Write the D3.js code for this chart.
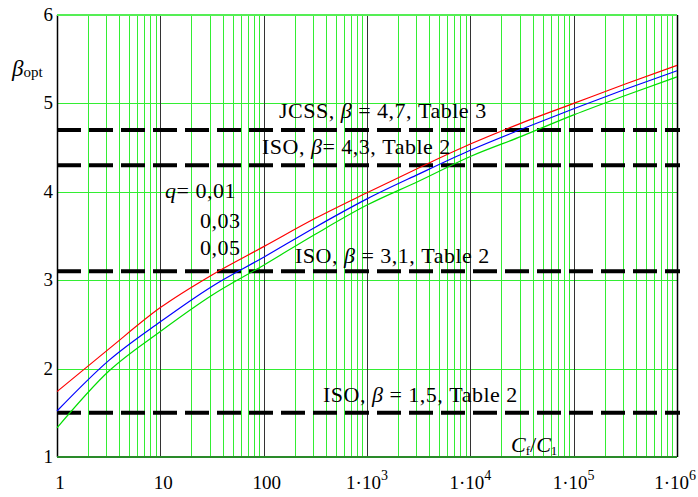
<!DOCTYPE html>
<html lang="en">
  <head>
    <meta charset="UTF-8" />
    <title>beta opt</title>
    <style>
      body { margin: 0; background: #fff; }
      svg { font-family: "Liberation Serif", "Times New Roman", serif; }
    </style>
    <script src="https://d3js.org/d3.v7.min.js"></script>
  </head>
  <body>
    <svg width="698" height="497"></svg>
    <script>
      // C_f / C_1 ratio (x) and beta_opt for the three q values
      var ratio = [1, 3.16, 10, 31.6, 100, 316, 1000, 3160, 10000, 31600, 100000, 316000, 1000000];
      var q001 = [1.74, 2.22, 2.69, 3.06, 3.38, 3.70, 3.99, 4.27, 4.54, 4.78, 5.00, 5.22, 5.43];
      var q003 = [1.52, 2.09, 2.53, 2.93, 3.26, 3.60, 3.92, 4.20, 4.47, 4.71, 4.94, 5.16, 5.37];
      var q005 = [1.33, 1.97, 2.42, 2.83, 3.17, 3.52, 3.85, 4.12, 4.40, 4.63, 4.87, 5.09, 5.30];

      // target reliability levels (dashed)
      var targets = [4.7, 4.3, 3.1, 1.5];
      var yTicks = [1, 2, 3, 4, 5, 6];
      var xDecades = [1, 10, 100, 1000, 10000, 100000, 1000000];
      var xTickText = ["1", "10", "100", "3", "4", "5", "6"];

      var svg = d3.select("svg");
      var x = d3.scaleLog().domain([1, 1e6]).range([57, 677]);
      var y = d3.scaleLinear().domain([1, 6]).range([457, 15]);

      // minor vertical grid (green)
      var minor = [];
      xDecades.slice(0, 6).forEach(function (d) {
        for (var m = 2; m < 10; m++) minor.push(d * m);
      });
      svg.append("g")
        .selectAll("line")
        .data(minor)
        .join("line")
        .attr("x1", (d) => Math.round(x(d)) + 0.5)
        .attr("x2", (d) => Math.round(x(d)) + 0.5)
        .attr("y1", y(6))
        .attr("y2", y(1))
        .attr("stroke", "#33ee33")
        .attr("stroke-width", 1);

      // horizontal grid (green)
      svg.append("g")
        .selectAll("line")
        .data(yTicks.slice(1, 5))
        .join("line")
        .attr("x1", x(1))
        .attr("x2", x(1e6))
        .attr("y1", (d) => Math.round(y(d)) + 0.5)
        .attr("y2", (d) => Math.round(y(d)) + 0.5)
        .attr("stroke", "#33ee33");

      // decade lines (black)
      svg.append("g")
        .selectAll("line")
        .data(xDecades)
        .join("line")
        .attr("x1", (d) => Math.round(x(d)) + 0.5)
        .attr("x2", (d) => Math.round(x(d)) + 0.5)
        .attr("y1", y(6))
        .attr("y2", y(1))
        .attr("stroke", (d, i) => (i == 0 || i == 6 ? "#000" : "#333"))
        .attr("stroke-width", (d, i) => (i == 0 || i == 6 ? 1.5 : 1));

      // top and bottom borders
      svg.append("line")
        .attr("x1", x(1)).attr("x2", x(1e6))
        .attr("y1", y(6)).attr("y2", y(6))
        .attr("stroke", "#55ee55").attr("stroke-width", 2);
      svg.append("line")
        .attr("x1", x(1)).attr("x2", x(1e6))
        .attr("y1", y(1)).attr("y2", y(1))
        .attr("stroke", "#2a8a2a").attr("stroke-width", 2);

      // dashed target lines
      svg.append("g")
        .selectAll("line")
        .data(targets)
        .join("line")
        .attr("x1", x(1))
        .attr("x2", x(1e6) + 3)
        .attr("y1", (d) => y(d))
        .attr("y2", (d) => y(d))
        .attr("stroke", "#000")
        .attr("stroke-width", 4)
        .attr("stroke-dasharray", "24,8");

      // curves
      var line = d3.line()
        .curve(d3.curveMonotoneX)
        .x((d) => x(d[0]))
        .y((d) => y(d[1]));
      [[q001, "#ff0000"], [q003, "#0000ff"], [q005, "#00dd00"]].forEach(function (s) {
        svg.append("path")
          .attr("d", line(ratio.map((r, i) => [r, s[0][i]])))
          .attr("fill", "none")
          .attr("stroke", s[1])
          .attr("stroke-width", 1.2);
      });

      // y tick labels
      svg.append("g")
        .selectAll("text")
        .data(yTicks)
        .join("text")
        .attr("x", 53)
        .attr("y", (d) => y(d) + 6)
        .attr("text-anchor", "end")
        .attr("font-size", 19)
        .text((d) => d);

      // x tick labels
      var xl = svg.append("g")
        .selectAll("text")
        .data(xDecades)
        .join("text")
        .attr("x", (d, i) => (i == 6 ? 696 : x(d) + (i < 3 ? 3 : 0)))
        .attr("y", 489)
        .attr("text-anchor", (d, i) => (i == 6 ? "end" : "middle"))
        .attr("font-size", 19);
      xl.each(function (d, i) {
        var t = d3.select(this);
        if (i < 3) {
          t.text(xTickText[i]);
        } else {
          t.append("tspan").text("1\u00b710");
          t.append("tspan").attr("dy", -9).attr("font-size", 14).text(xTickText[i]);
        }
      });

      // axis titles
      var yt = svg.append("text").attr("x", 12).attr("y", 76).attr("font-size", 23);
      yt.append("tspan").attr("font-style", "italic").text("\u03b2");
      yt.append("tspan").attr("font-size", 15).attr("dy", 1).text("opt");

      var xt = svg.append("text").attr("x", 511).attr("y", 452).attr("font-size", 22);
      xt.append("tspan").attr("font-style", "italic").text("C");
      xt.append("tspan").attr("font-size", 13).attr("dy", 3).text("f");
      xt.append("tspan").attr("dy", -3).text("/");
      xt.append("tspan").attr("font-style", "italic").text("C");
      xt.append("tspan").attr("font-size", 13).attr("dy", 3).text("1");

      // annotations
      var labels = [
        { x: 279, y: 118, pre: "JCSS, ", post: " = 4,7, Table 3" },
        { x: 262, y: 154, pre: "ISO, ", post: "= 4,3, Table 2" },
        { x: 295, y: 263, pre: "ISO, ", post: " = 3,1, Table 2" },
        { x: 323, y: 402, pre: "ISO, ", post: " = 1,5, Table 2" }
      ];
      labels.forEach(function (l) {
        var t = svg.append("text").attr("x", l.x).attr("y", l.y)
          .attr("font-size", 22).attr("letter-spacing", 0.5);
        t.append("tspan").text(l.pre);
        t.append("tspan").attr("font-style", "italic").text("\u03b2");
        t.append("tspan").text(l.post);
      });

      var qt = svg.append("text").attr("x", 165).attr("y", 198)
        .attr("font-size", 22).attr("letter-spacing", 0.5);
      qt.append("tspan").attr("font-style", "italic").text("q");
      qt.append("tspan").text("= 0,01");
      svg.append("text").attr("x", 200).attr("y", 228).attr("font-size", 22).attr("letter-spacing", 0.5).text("0,03");
      svg.append("text").attr("x", 200).attr("y", 255).attr("font-size", 22).attr("letter-spacing", 0.5).text("0,05");
    </script>
  </body>
</html>
